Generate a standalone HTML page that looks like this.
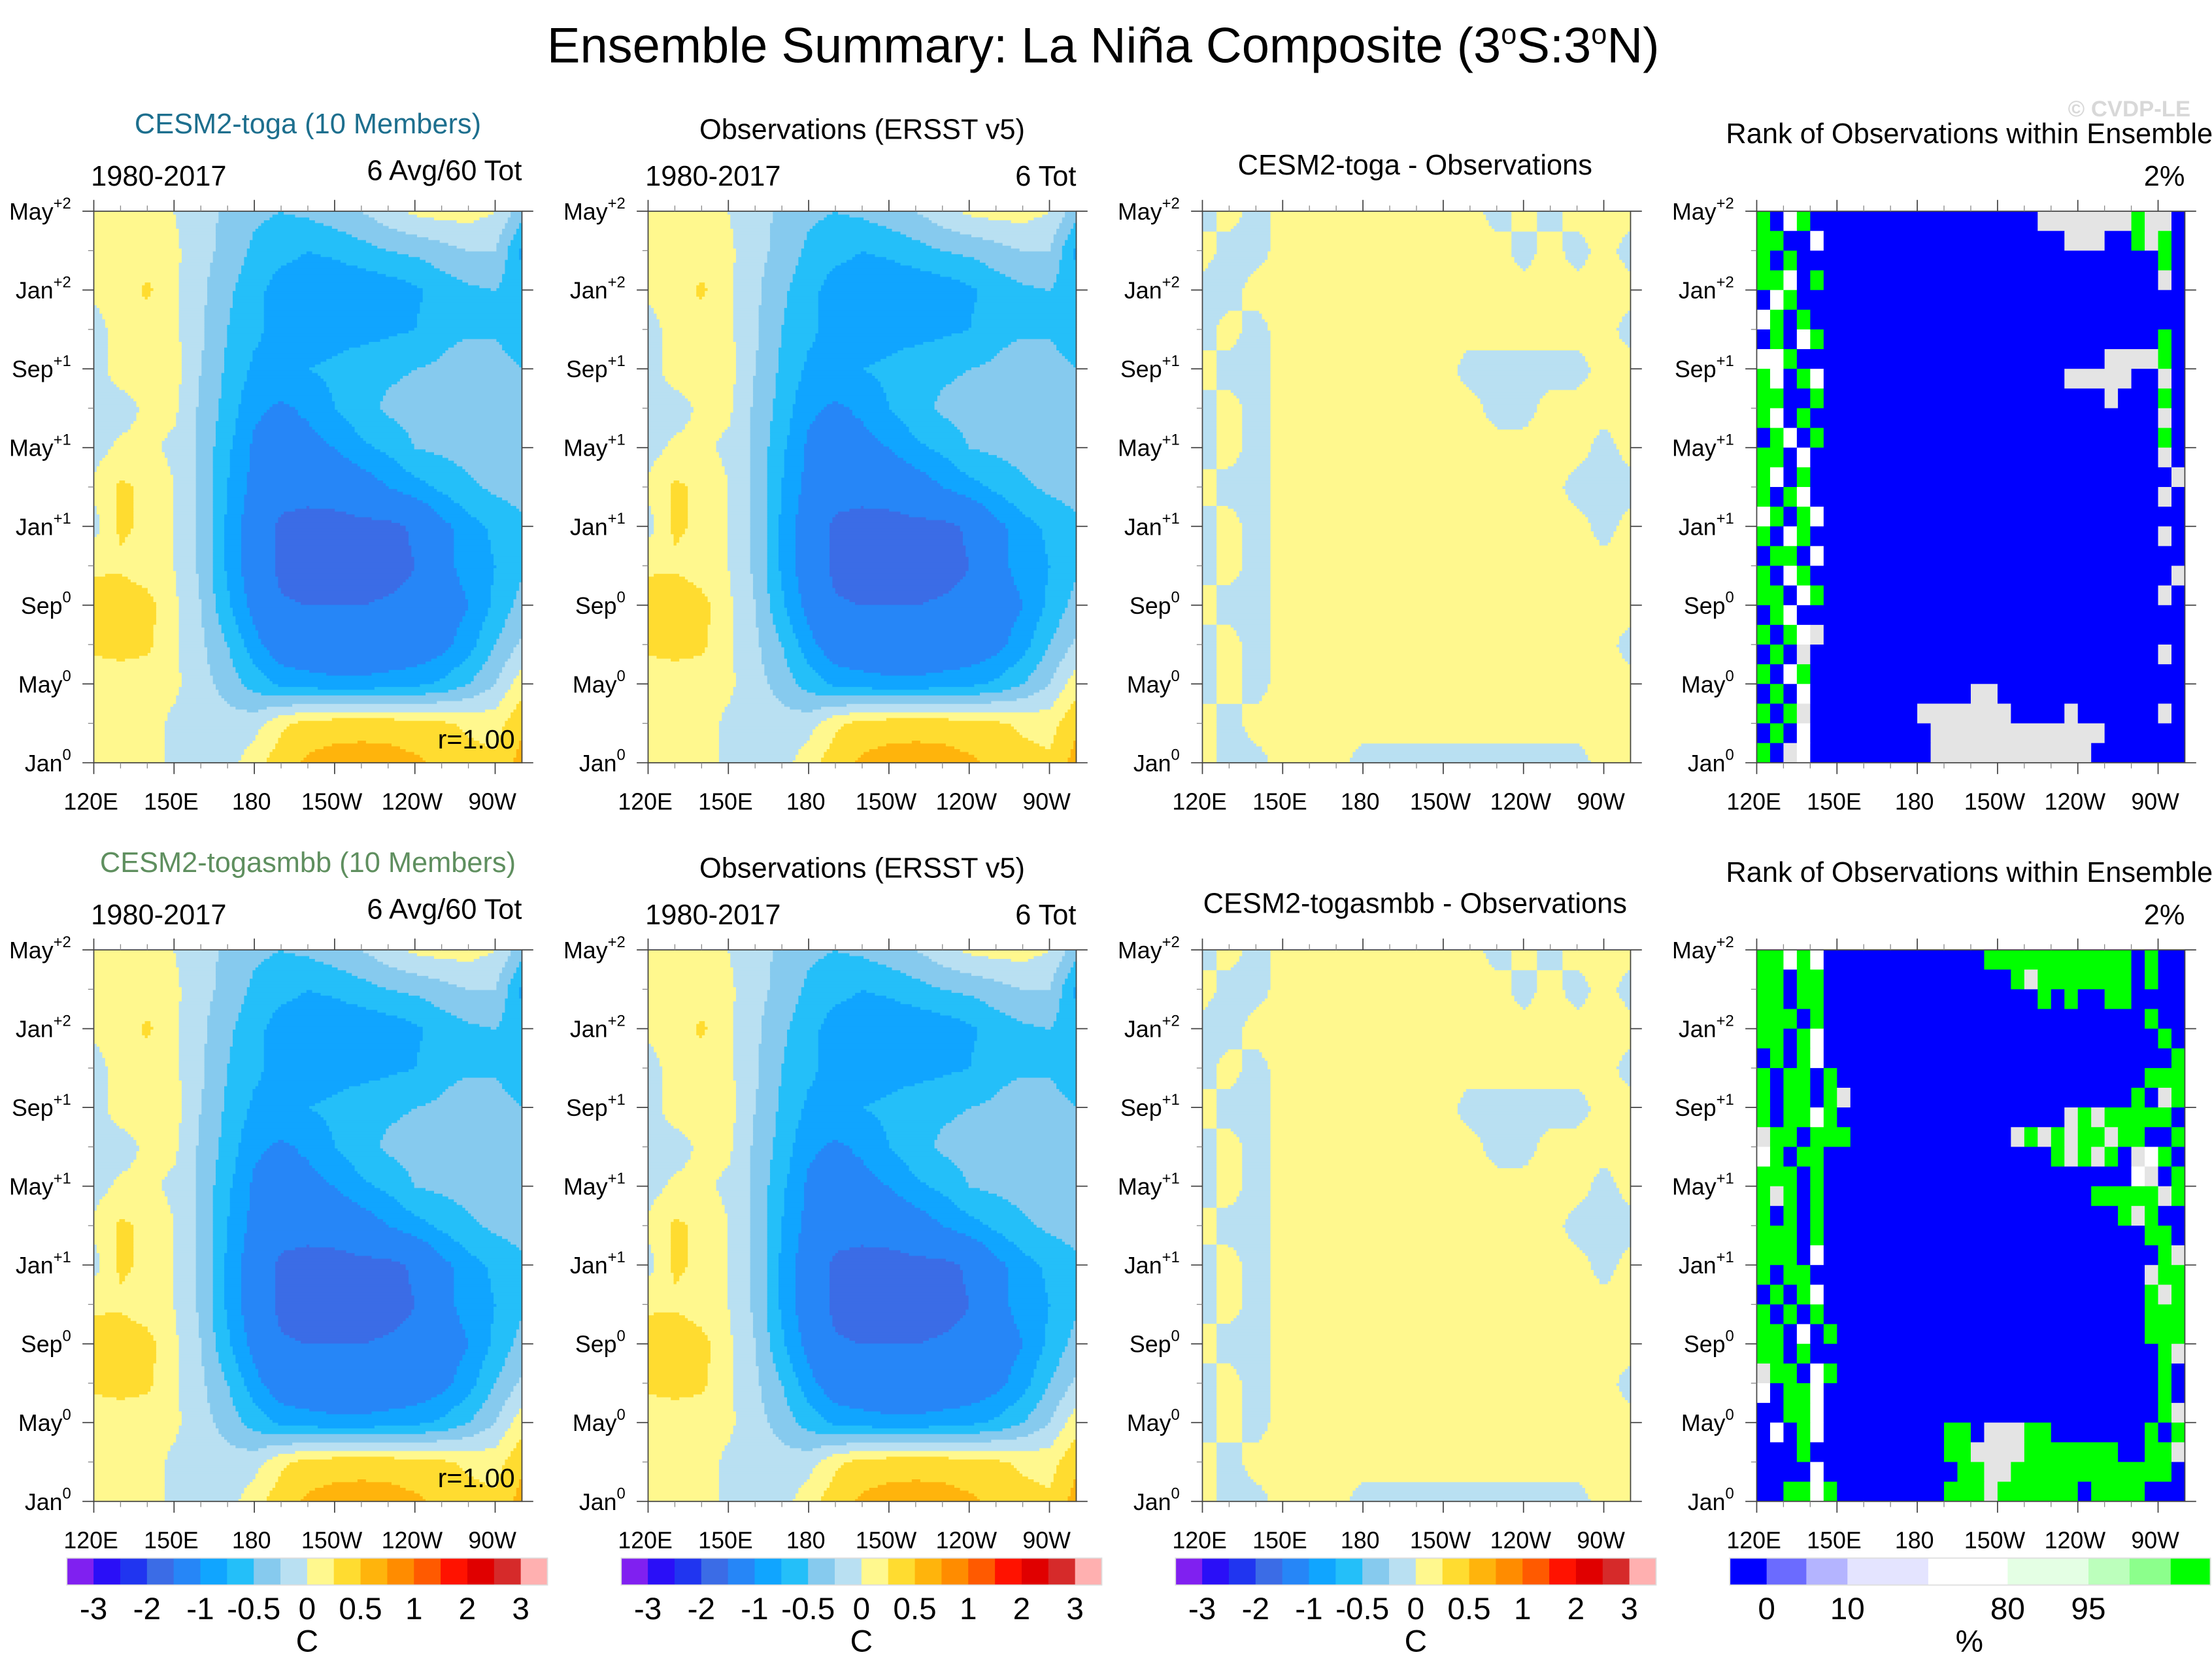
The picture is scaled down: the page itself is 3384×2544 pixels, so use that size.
<!DOCTYPE html>
<html><head><meta charset="utf-8"><style>
html,body{margin:0;padding:0;background:#fff}
svg{display:block}
text{font-family:"Liberation Sans",sans-serif}
</style></head><body>
<svg id="fig" xmlns="http://www.w3.org/2000/svg" width="3384" height="2544" viewBox="0 0 1560 1173">
<rect width="1560" height="1173" fill="#fff"/>
<text x="778" y="44" font-size="35" text-anchor="middle">Ensemble Summary: La Niña Composite (3<tspan dy="-13" font-size="20">o</tspan><tspan dy="13">S:3</tspan><tspan dy="-13" font-size="20">o</tspan><tspan dy="13">N)</tspan></text>
<text x="1545" y="82" font-size="16" font-weight="bold" fill="#d8d8d8" text-anchor="end">© CVDP-LE</text>
<g id="panels"></g>
</svg>
<script>
// ---------- data ----------
const levels = [-3,-2.5,-2,-1.5,-1,-0.75,-0.5,-0.25,0,0.25,0.5,0.75,1,1.5,2,2.5,3];
const levelColors = ["#8020f0","#2a0ff7","#2035f0","#3b6ce6","#2686f7","#10a5ff","#24bff9","#86caee","#b9e0f2","#fff88e","#ffdc30","#ffb40c","#ff8c00","#ff5a00","#ff1200","#e00000","#d62a2a","#ffb0b0"];
const colorbarLabels = ["-3","-2","-1","-0.5","0","0.5","1","2","3"];
const lonPoints = [120,130,140,150,160,170,180,190,200,210,220,230,240,250,260,270,280];
// rows: months 0,2,4,...,28 (Jan0 .. May+2)
const modelField = [
[0.1,0.1,0.1,-0.05,-0.1,-0.1,0.15,0.4,0.55,0.6,0.62,0.6,0.55,0.45,0.35,0.3,0.6],
[0.1,0.1,0.1,-0.05,-0.1,-0.15,-0.1,0.2,0.35,0.4,0.4,0.4,0.35,0.3,0.2,0.15,0.45],
[0.1,0.1,0.1,0.05,-0.15,-0.35,-0.6,-0.8,-0.85,-0.9,-0.9,-0.85,-0.8,-0.7,-0.5,-0.25,0.15],
[0.3,0.35,0.3,0.05,-0.2,-0.5,-0.9,-1.2,-1.3,-1.35,-1.35,-1.3,-1.25,-1.1,-0.85,-0.5,-0.2],
[0.4,0.45,0.35,0.05,-0.25,-0.7,-1.1,-1.45,-1.5,-1.5,-1.5,-1.45,-1.4,-1.2,-1.0,-0.7,-0.4],
[0.2,0.2,0.1,0.0,-0.3,-0.8,-1.2,-1.6,-1.7,-1.7,-1.7,-1.65,-1.5,-1.1,-0.9,-0.75,-0.55],
[-0.1,0.3,0.2,0.0,-0.3,-0.8,-1.2,-1.6,-1.65,-1.65,-1.6,-1.6,-1.45,-1.1,-0.85,-0.7,-0.55],
[0.05,0.3,0.2,0.0,-0.3,-0.75,-1.1,-1.3,-1.35,-1.3,-1.2,-1.0,-0.85,-0.7,-0.55,-0.45,-0.4],
[-0.1,0.05,0.05,-0.05,-0.3,-0.7,-1.05,-1.15,-1.1,-1.0,-0.8,-0.7,-0.5,-0.45,-0.4,-0.3,-0.5],
[-0.1,-0.1,0.05,0.05,-0.3,-0.6,-0.95,-1.05,-0.95,-0.75,-0.6,-0.45,-0.4,-0.35,-0.35,-0.35,-0.5],
[-0.1,0.1,0.1,0.1,-0.25,-0.55,-0.8,-0.8,-0.75,-0.7,-0.6,-0.55,-0.5,-0.45,-0.3,-0.35,-0.5],
[-0.1,0.1,0.1,0.05,-0.2,-0.5,-0.7,-0.85,-0.9,-0.85,-0.85,-0.8,-0.75,-0.6,-0.55,-0.55,-0.7],
[0.05,0.1,0.3,0.05,-0.2,-0.45,-0.65,-0.9,-0.95,-0.95,-0.95,-0.9,-0.8,-0.65,-0.55,-0.5,-0.7],
[0.05,0.1,0.1,0.05,-0.15,-0.35,-0.55,-0.65,-0.75,-0.7,-0.6,-0.5,-0.45,-0.35,-0.25,-0.25,-0.8],
[0.05,0.1,0.1,0.0,-0.15,-0.3,-0.45,-0.5,-0.45,-0.35,-0.25,-0.1,0.05,0.1,0.1,0.0,-0.4]
];
const obsField = [
[0.1,0.1,0.1,-0.05,-0.1,-0.1,0.15,0.4,0.55,0.6,0.62,0.6,0.55,0.45,0.35,0.3,0.6],
[0.1,0.1,0.1,-0.05,-0.1,-0.15,-0.1,0.2,0.35,0.4,0.4,0.4,0.35,0.3,0.2,0.15,0.45],
[0.1,0.1,0.1,0.05,-0.15,-0.35,-0.6,-0.8,-0.85,-0.9,-0.9,-0.85,-0.8,-0.7,-0.5,-0.25,0.15],
[0.3,0.35,0.3,0.05,-0.2,-0.5,-0.9,-1.2,-1.3,-1.35,-1.35,-1.3,-1.25,-1.1,-0.85,-0.5,-0.2],
[0.4,0.5,0.35,0.05,-0.25,-0.7,-1.1,-1.45,-1.5,-1.5,-1.5,-1.45,-1.4,-1.2,-1.0,-0.7,-0.4],
[0.2,0.2,0.1,0.0,-0.3,-0.8,-1.2,-1.6,-1.7,-1.7,-1.7,-1.65,-1.5,-1.1,-0.9,-0.75,-0.55],
[-0.1,0.3,0.2,0.0,-0.3,-0.8,-1.2,-1.6,-1.65,-1.65,-1.6,-1.6,-1.45,-1.1,-0.85,-0.7,-0.55],
[0.05,0.3,0.2,0.0,-0.3,-0.75,-1.1,-1.3,-1.35,-1.3,-1.2,-1.0,-0.85,-0.7,-0.55,-0.45,-0.4],
[-0.1,0.05,0.05,-0.05,-0.3,-0.7,-1.05,-1.15,-1.1,-1.0,-0.8,-0.7,-0.5,-0.45,-0.4,-0.3,-0.5],
[-0.1,-0.1,0.05,0.05,-0.3,-0.6,-0.95,-1.05,-0.95,-0.75,-0.6,-0.45,-0.4,-0.35,-0.35,-0.35,-0.5],
[-0.1,0.1,0.1,0.1,-0.25,-0.55,-0.8,-0.8,-0.75,-0.7,-0.6,-0.55,-0.5,-0.45,-0.3,-0.35,-0.5],
[-0.1,0.1,0.1,0.05,-0.2,-0.5,-0.7,-0.85,-0.9,-0.85,-0.85,-0.8,-0.75,-0.6,-0.55,-0.55,-0.7],
[0.05,0.1,0.3,0.05,-0.2,-0.45,-0.65,-0.9,-0.95,-0.95,-0.95,-0.9,-0.8,-0.65,-0.55,-0.5,-0.7],
[0.05,0.1,0.1,0.05,-0.15,-0.35,-0.55,-0.65,-0.75,-0.7,-0.6,-0.5,-0.45,-0.35,-0.25,-0.25,-0.8],
[0.05,0.1,0.1,0.0,-0.15,-0.3,-0.45,-0.5,-0.45,-0.35,-0.25,-0.1,0.05,0.1,0.1,0.0,-0.4]
];
const diffField = [
[0.05,-0.05,-0.05,0.05,0.05,0.05,-0.05,-0.05,-0.05,-0.05,-0.05,-0.05,-0.05,-0.05,-0.05,0.05,0.05],
[0.05,-0.05,0.05,0.05,0.05,0.05,0.05,0.05,0.05,0.05,0.05,0.05,0.05,0.05,0.05,0.05,0.05],
[-0.05,0.05,-0.05,0.05,0.05,0.05,0.05,0.05,0.05,0.05,0.05,0.05,0.05,0.05,0.05,0.05,0.05],
[-0.05,0.05,-0.05,0.05,0.05,0.05,0.05,0.05,0.05,0.05,0.05,0.05,0.05,0.05,0.05,0.05,-0.05],
[0.05,-0.05,-0.05,0.05,0.05,0.05,0.05,0.05,0.05,0.05,0.05,0.05,0.05,0.05,0.05,0.05,0.05],
[-0.05,0.05,-0.05,0.05,0.05,0.05,0.05,0.05,0.05,0.05,0.05,0.05,0.05,0.05,0.05,0.05,0.05],
[-0.05,0.05,-0.05,0.05,0.05,0.05,0.05,0.05,0.05,0.05,0.05,0.05,0.05,0.05,0.05,-0.05,0.05],
[0.05,-0.05,-0.05,0.05,0.05,0.05,0.05,0.05,0.05,0.05,0.05,0.05,0.05,0.05,-0.05,-0.05,-0.05],
[-0.05,0.05,-0.05,0.05,0.05,0.05,0.05,0.05,0.05,0.05,0.05,0.05,0.05,0.05,0.05,-0.05,0.05],
[-0.05,0.05,-0.05,0.05,0.05,0.05,0.05,0.05,0.05,0.05,0.05,-0.05,-0.05,0.05,0.05,0.05,0.05],
[0.05,-0.05,-0.05,0.05,0.05,0.05,0.05,0.05,0.05,0.05,-0.05,-0.05,-0.05,-0.05,-0.05,0.05,0.05],
[-0.05,0.05,-0.05,0.05,0.05,0.05,0.05,0.05,0.05,0.05,0.05,0.05,0.05,0.05,0.05,0.05,-0.05],
[-0.05,-0.05,0.05,0.05,0.05,0.05,0.05,0.05,0.05,0.05,0.05,0.05,0.05,0.05,0.05,0.05,0.05],
[0.05,-0.05,-0.05,0.05,0.05,0.05,0.05,0.05,0.05,0.05,0.05,0.05,-0.05,0.05,-0.05,0.05,-0.05],
[-0.05,0.05,-0.05,0.05,0.05,0.05,0.05,0.05,0.05,0.05,0.05,-0.05,0.05,-0.05,0.05,0.05,0.05]
];
// rank categories: B <10% dark blue, G >95% green, W white, L light gray; rows top (May+2) to bottom (Jan0)
const rankCodes = {B:"#0000ff",G:"#00ff00",W:"#ffffff",L:"#e4e4e4"};
const rankColorbarColors = ["#0000ff","#6b6bff","#b4b4ff","#e4e4ff","#ffffff","#e4ffe4","#bcffbc","#8cff8c","#00ff00"];
const rankColorbarLabels = ["0","10","80","95"];
const rankTogaRows = [
"GBWGBBBBBBBBBBBBBBBBBLLLLLLLGLLB","GGBBWBBBBBBBBBBBBBBBBBBLLLBBGLGB","GBGBBBBBBBBBBBBBBBBBBBBBBBBBBBGB","GGWBGBBBBBBBBBBBBBBBBBBBBBBBBBLB",
"BWGBBBBBBBBBBBBBBBBBBBBBBBBBBBBB","WGBGBBBBBBBBBBBBBBBBBBBBBBBBBBBB","BGBWGBBBBBBBBBBBBBBBBBBBBBBBBBGB","WWGBBBBBBBBBBBBBBBBBBBBBBBLLLLGB",
"GWBGWBBBBBBBBBBBBBBBBBBLLLLLBBLB","GGBBGBBBBBBBBBBBBBBBBBBBBBLBBBGB","GWBGBBBBBBBBBBBBBBBBBBBBBBBBBBLB","BGWBGBBBBBBBBBBBBBBBBBBBBBBBBBGB",
"GGBWBBBBBBBBBBBBBBBBBBBBBBBBBBLB","GWBGBBBBBBBBBBBBBBBBBBBBBBBBBBBL","GBGWBBBBBBBBBBBBBBBBBBBBBBBBBBLB","WGBGWBBBBBBBBBBBBBBBBBBBBBBBBBBB",
"GBWGBBBBBBBBBBBBBBBBBBBBBBBBBBLB","BGGBWBBBBBBBBBBBBBBBBBBBBBBBBBBB","GBWGBBBBBBBBBBBBBBBBBBBBBBBBBBBL","GGBWGBBBBBBBBBBBBBBBBBBBBBBBBBLB",
"BGWBBBBBBBBBBBBBBBBBBBBBBBBBBBBB","GBGWLBBBBBBBBBBBBBBBBBBBBBBBBBBB","BGBLBBBBBBBBBBBBBBBBBBBBBBBBBBLB","GBWGBBBBBBBBBBBBBBBBBBBBBBBBBBBB",
"BGBWBBBBBBBBBBBBLLBBBBBBBBBBBBBB","GBGLBBBBBBBBLLLLLLLBBBBLBBBBBBLB","BGBWBBBBBBBBBLLLLLLLLLLLLLBBBBBB","GBLWBBBBBBBBBLLLLLLLLLLLLBBBBBBB"
];
const rankSmbbRows = [
"GGWGWBBBBBBBBBBBBGGGGGGGGGGGBGBB","GGBGGBBBBBBBBBBBBBBGLGGGGGGGBGBB","GGBGGBBBBBBBBBBBBBBBBGBGBBGGBBBB","GGGBGBBBBBBBBBBBBBBBBBBBBBBBBGBB",
"GGBGWBBBBBBBBBBBBBBBBBBBBBBBBBGB","BGBGWBBBBBBBBBBBBBBBBBBBBBBBBBBG","GBGGBGBBBBBBBBBBBBBBBBBBBBBBBGGG","GBGGBGLBBBBBBBBBBBBBBBBBBBBBGBLG",
"GBGGWGBBBBBBBBBBBBBBBBBLGLGGGGGB","LGGBGGGBBBBBBBBBBBBLGLGLGGLGGBBG","WGBGGBBBBBBBBBBBBBBBBBGLGLGBLWGB","GGGBGBBBBBBBBBBBBBBBBBBBBBBBWLBG",
"GLGBGBBBBBBBBBBBBBBBBBBBBGGGGGLG","GBGBGBBBBBBBBBBBBBBBBBBBBBBGLGBB","GGGBGBBBBBBBBBBBBBBBBBBBBBBBBGGB","GGGBWBBBBBBBBBBBBBBBBBBBBBBBBBGL",
"GBGGBBBBBBBBBBBBBBBBBBBBBBBBBLGG","BGBGWBBBBBBBBBBBBBBBBBBBBBBBBGLG","GBGBGBBBBBBBBBBBBBBBBBBBBBBBBGGG","GGBWBGBBBBBBBBBBBBBBBBBBBBBBBGGG",
"GGBGBBBBBBBBBBBBBBBBBBBBBBBBBBGL","LGGBWGBBBBBBBBBBBBBBBBBBBBBBBBGB","WBGGWBBBBBBBBBBBBBBBBBBBBBBBBBGB","BBGGWBBBBBBBBBBBBBBBBBBBBBBBBBGL",
"BWBGWBBBBBBBBBGGBLLLGGBBBBBBBGBG","BBBGBBBBBBBBBBGGLLLLGGGGGGGBBGGL","BBBBWBBBBBBBBBBGGLLGGGGGGGGGGGGB","BBGGWGBBBBBBBBGGGLGGGGGGBGGGGBBB"
];
const yTickMonths = [0,4,8,12,16,20,24,28];
const yTickNames = ["Jan","May","Sep","Jan","May","Sep","Jan","May"];
const yTickSups = ["0","0","0","+1","+1","+1","+2","+2"];
const xTickLons = [120,150,180,210,240,270];
const xTickLabels = ["120E","150E","180","150W","120W","90W"];

// ---------- layout ----------
const NS="http://www.w3.org/2000/svg";
const root=document.getElementById('panels');
const colX=[66,457,848,1239], rowY=[149,670], PW=302, PH=389;
const LON0=120, LON1=280, MONTHS=28;
function el(tag,attrs,parent){const e=document.createElementNS(NS,tag);for(const k in attrs)e.setAttribute(k,attrs[k]);(parent||root).appendChild(e);return e;}
function xScale(x0,lon){return x0+(lon-LON0)/(LON1-LON0)*PW;}
function yScale(y0,m){return y0+PH-m/MONTHS*PH;}
function colorIndex(v){let i=0;for(const l of levels){if(v>=l)i++;}return i;}
function sample(field,lon,m){
  const fx=(lon-lonPoints[0])/(lonPoints[1]-lonPoints[0]);
  const fy=m/2;
  const i0=Math.max(0,Math.min(lonPoints.length-2,Math.floor(fx))), j0=Math.max(0,Math.min(field.length-2,Math.floor(fy)));
  const tx=Math.min(1,Math.max(0,fx-i0)), ty=Math.min(1,Math.max(0,fy-j0));
  const a=field[j0][i0],b=field[j0][i0+1],c=field[j0+1][i0],d=field[j0+1][i0+1];
  return (a*(1-tx)+b*tx)*(1-ty)+(c*(1-tx)+d*tx)*ty;
}
function drawContour(g,x0,y0,field){
  const NX=151,NY=195;
  for(let j=0;j<NY;j++){
    const m0=j/NY*MONTHS, m1=(j+1)/NY*MONTHS, mc=(m0+m1)/2;
    let start=0, cur=null;
    for(let i=0;i<=NX;i++){
      let ci=null;
      if(i<NX){const lon=LON0+(i+0.5)/NX*(LON1-LON0);ci=colorIndex(sample(field,lon,mc));}
      if(ci!==cur){
        if(cur!==null){
          const xa=xScale(x0,LON0+start/NX*(LON1-LON0)), xb=xScale(x0,LON0+i/NX*(LON1-LON0));
          const r=el('rect',{x:xa.toFixed(2),y:yScale(y0,m1).toFixed(2),width:(xb-xa+0.4).toFixed(2),height:(PH/NY+0.4).toFixed(2),fill:levelColors[cur]},g);
          
          
        }
        cur=ci;start=i;
      }
    }
  }
}
function drawRank(g,x0,y0,rows){
  const nr=rows.length, nc=rows[0].length;
  rows.forEach((row,r)=>{
    const mTop=MONTHS-r*MONTHS/nr, mBot=MONTHS-(r+1)*MONTHS/nr;
    let start=0;
    for(let i=1;i<=nc;i++){
      if(i===nc||row[i]!==row[start]){
        const xa=xScale(x0,LON0+start/nc*(LON1-LON0)), xb=xScale(x0,LON0+i/nc*(LON1-LON0));
        const c=el('rect',{x:xa.toFixed(2),y:yScale(y0,mTop).toFixed(2),width:(xb-xa+0.3).toFixed(2),height:(yScale(y0,mBot)-yScale(y0,mTop)+0.3).toFixed(2),fill:rankCodes[row[start]]},g);
        
        
        start=i;
      }
    }
  });
}
function drawAxes(g,x0,y0){
  el('rect',{x:x0,y:y0,width:PW,height:PH,fill:'none',stroke:'#444','stroke-width':0.8},g);
  yTickMonths.forEach((m,k)=>{
    const y=yScale(y0,m);
    el('line',{x1:x0-8,x2:x0,y1:y,y2:y,stroke:'#444','stroke-width':0.8},g);
    el('line',{x1:x0+PW,x2:x0+PW+8,y1:y,y2:y,stroke:'#444','stroke-width':0.8},g);
    const t=el('text',{x:x0-16,y:y+6,'font-size':16.5,'text-anchor':'end'},g);
    
    
    t.textContent=yTickNames[k];
    const s=el('tspan',{dy:-8,'font-size':11},t);s.textContent=yTickSups[k];
  });
  for(let m=2;m<MONTHS;m+=4){const y=yScale(y0,m);el('line',{x1:x0-4,x2:x0,y1:y,y2:y,stroke:'#888','stroke-width':0.6},g);}
  xTickLons.forEach((lon,k)=>{
    const x=xScale(x0,lon);
    el('line',{x1:x,x2:x,y1:y0+PH,y2:y0+PH+8,stroke:'#444','stroke-width':0.8},g);
    el('line',{x1:x,x2:x,y1:y0-8,y2:y0,stroke:'#444','stroke-width':0.8},g);
    const t=el('text',{x:x-2,y:y0+PH+33,'font-size':16.5,'text-anchor':'middle'},g);
    
    
    t.textContent=xTickLabels[k];
  });
  for(let lon=130;lon<280;lon+=10){if((lon-120)%30===0)continue;const x=xScale(x0,lon);el('line',{x1:x,x2:x,y1:y0+PH,y2:y0+PH+4,stroke:'#888','stroke-width':0.6},g);el('line',{x1:x,x2:x,y1:y0-4,y2:y0,stroke:'#888','stroke-width':0.6},g);}
}
function txt(g,name,x,y,s,size,anchor,fill){const t=el('text',{x:x,y:y,'font-size':size,'text-anchor':anchor||'start',fill:fill||'#000'},g);t.textContent=s;return t;}

const modelNames=["CESM2-toga","CESM2-togasmbb"], modelColors=["#1d6f8e","#5f8f5f"];
const rankData=[rankTogaRows,rankSmbbRows];
for(let r=0;r<2;r++){
  const y0=rowY[r];
  let g=el('g',{});
  drawContour(g,colX[0],y0,modelField);drawAxes(g,colX[0],y0);
  txt(g,'model-panel-title',217,y0-55,modelNames[r]+" (10 Members)",20,'middle',modelColors[r]);
  txt(g,'period-label',64,y0-18,"1980-2017",20);
  txt(g,'member-count-label',368,y0-22,"6 Avg/60 Tot",20,'end');
  txt(g,'correlation-label',363,y0+379,"r=1.00",19,'end');
  g=el('g',{});
  drawContour(g,colX[1],y0,obsField);drawAxes(g,colX[1],y0);
  txt(g,'observations-panel-title',608,y0-51,"Observations (ERSST v5)",20,'middle');
  txt(g,'period-label',455,y0-18,"1980-2017",20);
  txt(g,'obs-count-label',759,y0-18,"6 Tot",20,'end');
  g=el('g',{});
  drawContour(g,colX[2],y0,diffField);drawAxes(g,colX[2],y0);
  txt(g,'difference-panel-title',998,y0-26,modelNames[r]+" - Observations",20,'middle');
  g=el('g',{});
  drawRank(g,colX[3],y0,rankData[r]);drawAxes(g,colX[3],y0);
  txt(g,'rank-panel-title',1389,y0-48,"Rank of Observations within Ensemble",20,'middle');
  txt(g,'rank-percent-label',1541,y0-18,"2%",20,'end');
}
[47,438,829].forEach((cx,k)=>{
  const g=el('g',{});
  const bw=339/levelColors.length;
  levelColors.forEach((c,i)=>{const b=el('rect',{x:(cx+i*bw).toFixed(2),y:1099,width:(bw+0.3).toFixed(2),height:19,fill:c},g);});
  el('rect',{x:cx,y:1099,width:339,height:19,fill:'none',stroke:'#ddd','stroke-width':0.8},g);
  const labelLevels=[-3,-2,-1,-0.5,0,0.5,1,2,3];
  colorbarLabels.forEach((s,i)=>{const li=levels.indexOf(labelLevels[i]);txt(g,'colorbar-tick-label',cx+(li+1)*bw,1142,s,22,'middle');});
  txt(g,'colorbar-unit-label',cx+9*bw,1165,"C",22,'middle');
});
{
  const g=el('g',{});
  const edges=[1220,1246,1274,1303,1360,1416,1473,1502,1531,1559];
  rankColorbarColors.forEach((c,i)=>{const b=el('rect',{x:edges[i],y:1099,width:edges[i+1]-edges[i]+0.3,height:19,fill:c},g);});
  el('rect',{x:1220,y:1099,width:339,height:19,fill:'none',stroke:'#ddd','stroke-width':0.8},g);
  const lx=[1246,1303,1416,1473];
  rankColorbarLabels.forEach((s,i)=>txt(g,'rank-colorbar-tick-label',lx[i],1142,s,22,'middle'));
  txt(g,'rank-colorbar-unit-label',1389,1165,"%",22,'middle');
}
</script>
</body></html>
